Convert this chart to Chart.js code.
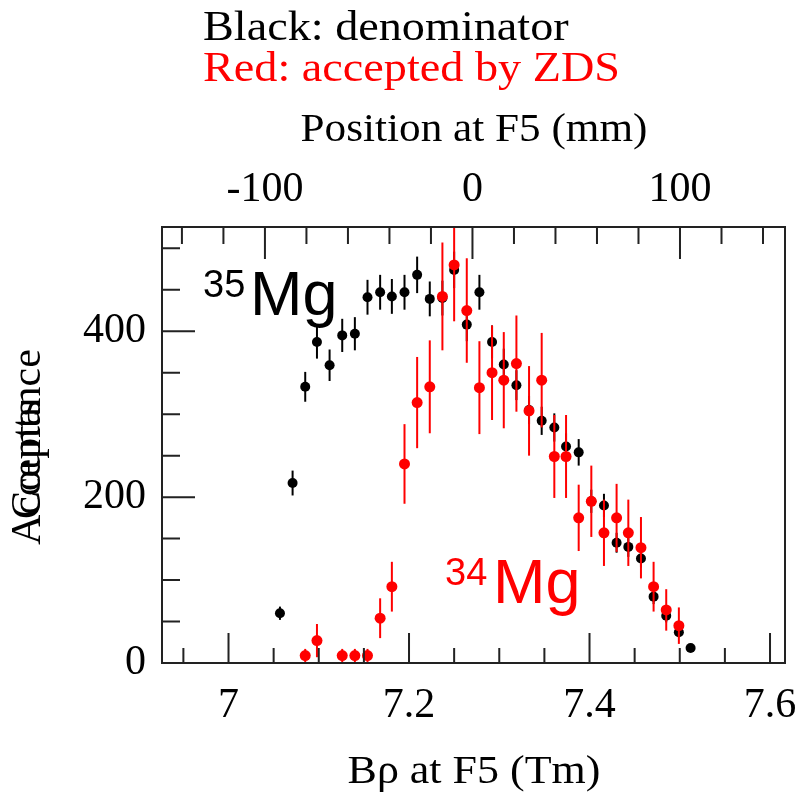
<!DOCTYPE html>
<html>
<head>
<meta charset="utf-8">
<script src="https://cdn.jsdelivr.net/npm/chart.js@4.4.0/dist/chart.umd.min.js"></script>
<style>
  body { margin: 0; background: #fff; }
  #wrap { width: 801px; height: 796px; }
</style>
</head>
<body>
<div id="wrap"><canvas id="c" width="801" height="796"></canvas></div>
<script>
// B-rho bins at F5 (Tm)
var brho = [7.057, 7.071, 7.085, 7.098, 7.112, 7.126, 7.140, 7.154, 7.168, 7.181,
            7.195, 7.209, 7.223, 7.237, 7.250, 7.264, 7.278, 7.292, 7.305, 7.319,
            7.333, 7.347, 7.361, 7.374, 7.388, 7.402, 7.416, 7.430, 7.443, 7.457,
            7.471, 7.485, 7.499, 7.512];
// black: denominator (35Mg)
var denom = [60, 217, 333, 387, 359, 395, 397, 441, 447, 442,
             447, 468, 439, 440, 474, 408, 447, 387, 360, 335,
             305, 292, 284, 261, 254, 195, 190, 145, 140, 126,
             80, 57, 37, 18];
var denomErr = [8, 15, 18, 20, 19, 20, 20, 21, 21, 21,
                21, 22, 21, 21, 22, 20, 21, 20, 19, 18,
                17, 17, 17, 16, 16, 14, 14, 12, 12, 11,
                9, 8, 6, 4];
// red: accepted by ZDS (34Mg)
var accepted = [null, null, 9, 27, null, 9, 9, 9, 54, 92,
                240, 314, 333, 442, 480, 425, 332, 350, 341, 361,
                304, 341, 249, 249, 175, 195, 157, 175, 157, 139,
                92, 64, 45, null];
var acceptedErr = [0, 0, 8, 20, 0, 8, 8, 8, 24, 30,
                   48, 55, 56, 65, 68, 63, 56, 57, 58, 58,
                   54, 57, 50, 50, 40, 43, 40, 41, 40, 37,
                   30, 25, 22, 0];

// axis ticks
var xMajor = [7, 7.2, 7.4, 7.6];
var xMinor = [6.95, 7.05, 7.1, 7.15, 7.25, 7.3, 7.35, 7.45, 7.5, 7.55];
var yMajor = [0, 200, 400];
var yMinor = [50, 100, 150, 250, 300, 350, 450, 500];
var posMajor = [-100, 0, 100];
var posMinor = [-140, -120, -80, -60, -40, -20, 20, 40, 60, 80, 120, 140];

var SERIF = "'Liberation Serif', 'Times New Roman', serif";
var SANS = "'Liberation Sans', Arial, sans-serif";

function pts(vals) {
  var out = [];
  brho.forEach(function (x, i) { out.push({ x: x, y: vals[i] }); });
  return out;
}
function allTicks(major, minor) {
  return major.concat(minor).sort(function (a, b) { return a - b; })
    .map(function (v) { return { value: v }; });
}
function isMajor(list, v) {
  return list.some(function (m) { return Math.abs(m - v) < 1e-6; });
}
function noPad(s) {
  s.paddingLeft = 0; s.paddingRight = 0; s.paddingTop = 0; s.paddingBottom = 0;
}

function txt(ctx, s, x, y, font, color, align, sx) {
  ctx.save();
  ctx.translate(x, y);
  ctx.scale(sx || 1, 1);
  ctx.font = font;
  ctx.fillStyle = color;
  ctx.textAlign = align || 'left';
  ctx.textBaseline = 'alphabetic';
  ctx.fillText(s, 0, 0);
  ctx.restore();
}

var errorBars = {
  id: 'errorBars',
  beforeDatasetDraw: function (chart, args) {
    var ds = chart.data.datasets[args.index];
    var xs = chart.scales.x, ys = chart.scales.y, ca = chart.chartArea;
    var ctx = chart.ctx;
    ctx.save();
    ctx.beginPath();
    ctx.rect(ca.left, ca.top, ca.right - ca.left, ca.bottom - ca.top);
    ctx.clip();
    ctx.strokeStyle = ds.backgroundColor;
    ctx.lineWidth = 2;
    ds.data.forEach(function (p, i) {
      if (p.y === null || !ds.errors[i]) return;
      var px = xs.getPixelForValue(p.x);
      ctx.beginPath();
      ctx.moveTo(px, ys.getPixelForValue(p.y - ds.errors[i]));
      ctx.lineTo(px, ys.getPixelForValue(p.y + ds.errors[i]));
      ctx.stroke();
    });
    ctx.restore();
  }
};

var frame = {
  id: 'frame',
  afterDraw: function (chart) {
    var ctx = chart.ctx, ca = chart.chartArea;
    var xs = chart.scales.x, x2 = chart.scales.x2, ys = chart.scales.y;
    ctx.save();
    ctx.strokeStyle = '#222';
    ctx.lineWidth = 2;
    ctx.strokeRect(ca.left, ca.top, ca.right - ca.left, ca.bottom - ca.top);
    ctx.beginPath();
    xs.ticks.forEach(function (t) {
      var px = xs.getPixelForValue(t.value);
      var len = isMajor(xMajor, t.value) ? 30 : 15;
      ctx.moveTo(px, ca.bottom);
      ctx.lineTo(px, ca.bottom - len);
    });
    x2.ticks.forEach(function (t) {
      var px = x2.getPixelForValue(t.value);
      var len = isMajor(posMajor, t.value) ? 32 : 17;
      ctx.moveTo(px, ca.top);
      ctx.lineTo(px, ca.top + len);
    });
    ys.ticks.forEach(function (t) {
      var py = ys.getPixelForValue(t.value);
      var len = isMajor(yMajor, t.value) ? 33 : 18;
      ctx.moveTo(ca.left, py);
      ctx.lineTo(ca.left + len, py);
    });
    ctx.stroke();
    ctx.restore();

    // notes and axis titles
    txt(ctx, 'Black: denominator', 203, 40, '42px ' + SERIF, '#000', 'left', 1.1);
    txt(ctx, 'Red: accepted by ZDS', 203, 81, '42px ' + SERIF, '#ff0000', 'left', 1.1);
    txt(ctx, 'Position at F5 (mm)', 474, 141, '40px ' + SERIF, '#000', 'center', 1.08);
    txt(ctx, 'B\u03c1 at F5 (Tm)', 474, 783, '40px ' + SERIF, '#000', 'center', 1.1);

    ctx.save();
    ctx.translate(40, 545);
    ctx.rotate(-Math.PI / 2);
    ctx.font = '42px ' + SERIF;
    ctx.fillStyle = '#000';
    ctx.textAlign = 'left';
    ctx.fillText('Acceptance', 0, 0);
    ctx.fillText('Counts', 26, 0);
    ctx.restore();

    // isotope labels
    txt(ctx, '35', 203, 297, '38px ' + SANS, '#000', 'left');
    txt(ctx, 'Mg', 250, 315, '63px ' + SANS, '#000', 'left');
    txt(ctx, '34', 445, 585, '38px ' + SANS, '#ff0000', 'left');
    txt(ctx, 'Mg', 493, 603, '63px ' + SANS, '#ff0000', 'left');
  }
};

new Chart(document.getElementById('c'), {
  type: 'scatter',
  data: {
    datasets: [{
      label: 'accepted by ZDS',
      data: pts(accepted),
      errors: acceptedErr,
      backgroundColor: '#ff0000',
      borderWidth: 0,
      pointRadius: 5.5,
      order: 0
    }, {
      label: 'denominator',
      data: pts(denom),
      errors: denomErr,
      backgroundColor: '#000000',
      borderWidth: 0,
      pointRadius: 5,
      order: 1
    }]
  },
  options: {
    responsive: false,
    animation: false,
    events: [],
    layout: { padding: { left: 0, right: 16, top: 0, bottom: 0 } },
    plugins: { legend: { display: false }, tooltip: { enabled: false } },
    scales: {
      x: {
        type: 'linear', position: 'bottom',
        min: 6.9263, max: 7.6166,
        afterBuildTicks: function (s) { s.ticks = allTicks(xMajor, xMinor); },
        afterFit: function (s) { s.height = 133; noPad(s); },
        grid: { display: false, drawTicks: false },
        border: { display: false },
        ticks: {
          autoSkip: false, maxRotation: 0, padding: 18, color: '#000',
          font: { family: SERIF, size: 42 },
          callback: function (v) { return isMajor(xMajor, v) ? String(Math.round(v * 10) / 10) : ''; }
        }
      },
      x2: {
        type: 'linear', position: 'top',
        min: -149.6, max: 150.6,
        afterBuildTicks: function (s) { s.ticks = allTicks(posMajor, posMinor); },
        afterFit: function (s) { s.height = 227; noPad(s); },
        grid: { display: false, drawTicks: false },
        border: { display: false },
        ticks: {
          autoSkip: false, maxRotation: 0, padding: 12, color: '#000',
          font: { family: SERIF, size: 42 },
          callback: function (v) { return isMajor(posMajor, v) ? String(v) : ''; }
        }
      },
      y: {
        type: 'linear', position: 'left',
        min: 0, max: 525.7,
        afterBuildTicks: function (s) { s.ticks = allTicks(yMajor, yMinor); },
        afterFit: function (s) { s.width = 162; noPad(s); },
        grid: { display: false, drawTicks: false },
        border: { display: false },
        ticks: {
          autoSkip: false, padding: 16, color: '#000',
          font: { family: SERIF, size: 42 },
          callback: function (v) { return isMajor(yMajor, v) ? String(v) : ''; }
        }
      }
    }
  },
  plugins: [errorBars, frame]
});
</script>
</body>
</html>
